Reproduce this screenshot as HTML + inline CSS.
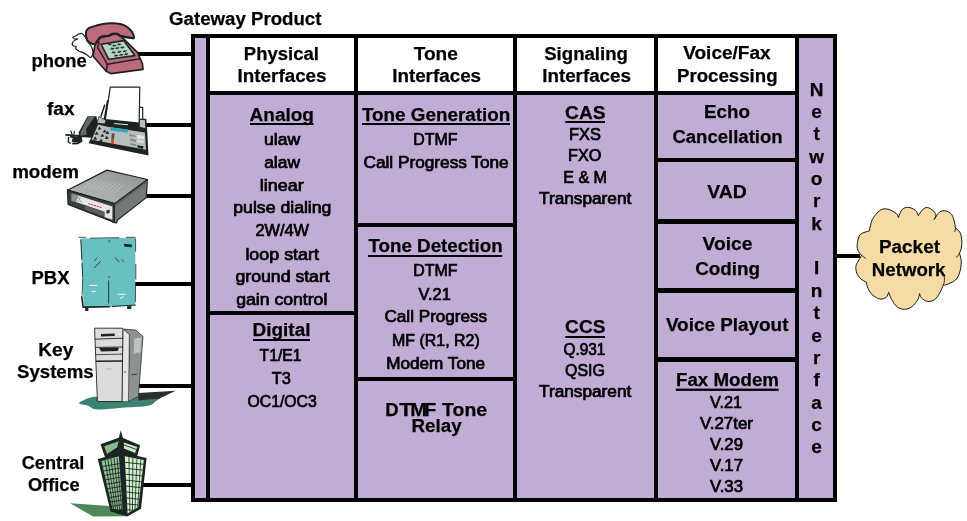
<!DOCTYPE html>
<html><head><meta charset="utf-8"><title>Gateway Product</title>
<style>
html,body{margin:0;padding:0;background:#fff;}
body{width:967px;height:521px;overflow:hidden;font-family:"Liberation Sans",sans-serif;}
svg{display:block}
text{font-family:"Liberation Sans",sans-serif;fill:#000;}
.b{font-weight:bold;font-size:19.2px;stroke:#000;stroke-width:0.25px;}
.r{font-size:15.7px;stroke:#000;stroke-width:0.7px;}
.v{font-weight:bold;font-size:19px;text-anchor:middle;stroke:#000;stroke-width:0.25px;}
</style></head><body>
<svg width="967" height="521" viewBox="0 0 967 521">
<rect x="193" y="36" width="642" height="464" fill="#c1acd5" stroke="#000" stroke-width="4"/>
<rect x="208" y="38" width="589" height="55" fill="#fff"/>
<rect x="206" y="36" width="4" height="464" fill="#000"/>
<rect x="354" y="36" width="4" height="464" fill="#000"/>
<rect x="513" y="36" width="4" height="464" fill="#000"/>
<rect x="654" y="36" width="4" height="464" fill="#000"/>
<rect x="795" y="36" width="4" height="464" fill="#000"/>
<rect x="206" y="91" width="593" height="4" fill="#000"/>
<rect x="208" y="311" width="148" height="4" fill="#000"/>
<rect x="356" y="223" width="159" height="4" fill="#000"/>
<rect x="356" y="377" width="159" height="4" fill="#000"/>
<rect x="656" y="158" width="141" height="4" fill="#000"/>
<rect x="656" y="219" width="141" height="5" fill="#000"/>
<rect x="656" y="288" width="141" height="5" fill="#000"/>
<rect x="656" y="357" width="141" height="5" fill="#000"/>
<rect x="136" y="52" width="56" height="4" fill="#000"/>
<rect x="146" y="123" width="46" height="4" fill="#000"/>
<rect x="147" y="194" width="45" height="4" fill="#000"/>
<rect x="134" y="282" width="58" height="4" fill="#000"/>
<rect x="138" y="384" width="54" height="4" fill="#000"/>
<rect x="142" y="483" width="50" height="4" fill="#000"/>
<rect x="836" y="254" width="24" height="4" fill="#000"/>
<g id="phone">
<path d="M83.5,34.7 C82.9,34.1 82.6,33.6 81.9,33.5 C81.1,33.3 79.8,33.6 78.7,34.0 C77.7,34.4 76.6,35.4 75.6,36.0 C74.6,36.5 72.8,36.7 72.7,37.2 C72.6,37.7 74.2,38.7 75.0,39.0 C75.8,39.3 77.8,38.7 77.7,39.0 C77.6,39.2 75.3,39.8 74.4,40.6 C73.5,41.3 72.4,42.6 72.2,43.5 C72.1,44.3 72.8,45.5 73.5,46.0 C74.2,46.5 75.9,46.0 76.2,46.5 C76.6,46.9 75.2,47.7 75.6,48.4 C76.0,49.2 77.6,50.3 78.7,50.9 C79.9,51.6 81.1,51.8 82.5,52.4 C83.8,53.1 85.6,53.9 86.8,54.7 C88.1,55.5 89.1,57.2 90.0,57.4 C90.8,57.7 91.3,57.0 91.8,56.2 C92.4,55.4 93.2,54.1 93.1,52.4 C93.0,50.8 92.2,48.0 91.2,46.2 C90.3,44.4 88.4,43.3 87.5,41.8 C86.5,40.4 86.3,38.7 85.6,37.5 C84.9,36.3 84.1,35.4 83.5,34.7 Z" fill="#fff" stroke="#1c2424" stroke-width="1.2" stroke-linejoin="round" stroke-linecap="round"/>
<polygon points="100.0,37.5 108.7,35.6 113.1,33.7 117.4,33.7 124.9,40.0 137.4,52.4 142.4,63.7 143.0,69.3 111.2,73.7 106.2,71.2 93.1,56.2 95.0,44.3" fill="#bd6a7b" stroke="#1c2424" stroke-width="1.7" stroke-linejoin="round" />
<polyline points="106.2,71.2 107.4,64.3 139.9,58.7" fill="none" stroke="#1c2424" stroke-width="1.6" stroke-linecap="round" stroke-linejoin="round" />
<polyline points="107.4,64.3 97.7,47.7 99.0,41.8" fill="none" stroke="#1c2424" stroke-width="1.5" stroke-linecap="round" stroke-linejoin="round" />
<polygon points="101.2,44.3 123.7,40.6 134.9,55.6 108.7,59.3" fill="#b2d9c5" stroke="#1c2424" stroke-width="1.6" stroke-linejoin="round" />
<polyline points="108.4,44.7 111.4,44.0" fill="none" stroke="#1c2424" stroke-width="1.1" stroke-linecap="round" stroke-linejoin="round" />
<polyline points="109.2,43.3 110.4,45.5" fill="none" stroke="#1c2424" stroke-width="0.6" stroke-linecap="round" stroke-linejoin="round" />
<polyline points="112.8,46.0 115.8,45.2" fill="none" stroke="#1c2424" stroke-width="1.1" stroke-linecap="round" stroke-linejoin="round" />
<polyline points="113.6,44.6 114.8,46.7" fill="none" stroke="#1c2424" stroke-width="0.6" stroke-linecap="round" stroke-linejoin="round" />
<polyline points="117.8,44.7 120.8,44.0" fill="none" stroke="#1c2424" stroke-width="1.1" stroke-linecap="round" stroke-linejoin="round" />
<polyline points="118.5,43.3 119.8,45.5" fill="none" stroke="#1c2424" stroke-width="0.6" stroke-linecap="round" stroke-linejoin="round" />
<polyline points="110.9,49.1 113.9,48.3" fill="none" stroke="#1c2424" stroke-width="1.1" stroke-linecap="round" stroke-linejoin="round" />
<polyline points="111.7,47.7 112.9,49.8" fill="none" stroke="#1c2424" stroke-width="0.6" stroke-linecap="round" stroke-linejoin="round" />
<polyline points="115.9,48.4 118.9,47.7" fill="none" stroke="#1c2424" stroke-width="1.1" stroke-linecap="round" stroke-linejoin="round" />
<polyline points="116.7,47.1 117.9,49.2" fill="none" stroke="#1c2424" stroke-width="0.6" stroke-linecap="round" stroke-linejoin="round" />
<polyline points="120.9,47.8 123.9,47.1" fill="none" stroke="#1c2424" stroke-width="1.1" stroke-linecap="round" stroke-linejoin="round" />
<polyline points="121.7,46.5 122.9,48.6" fill="none" stroke="#1c2424" stroke-width="0.6" stroke-linecap="round" stroke-linejoin="round" />
<polyline points="112.2,52.8 115.2,52.1" fill="none" stroke="#1c2424" stroke-width="1.1" stroke-linecap="round" stroke-linejoin="round" />
<polyline points="112.9,51.4 114.2,53.6" fill="none" stroke="#1c2424" stroke-width="0.6" stroke-linecap="round" stroke-linejoin="round" />
<polyline points="117.8,52.2 120.8,51.4" fill="none" stroke="#1c2424" stroke-width="1.1" stroke-linecap="round" stroke-linejoin="round" />
<polyline points="118.5,50.8 119.8,52.9" fill="none" stroke="#1c2424" stroke-width="0.6" stroke-linecap="round" stroke-linejoin="round" />
<polyline points="123.4,51.6 126.4,50.8" fill="none" stroke="#1c2424" stroke-width="1.1" stroke-linecap="round" stroke-linejoin="round" />
<polyline points="124.2,50.2 125.4,52.3" fill="none" stroke="#1c2424" stroke-width="0.6" stroke-linecap="round" stroke-linejoin="round" />
<polyline points="114.7,55.9 117.7,55.2" fill="none" stroke="#1c2424" stroke-width="1.1" stroke-linecap="round" stroke-linejoin="round" />
<polyline points="115.4,54.6 116.7,56.7" fill="none" stroke="#1c2424" stroke-width="0.6" stroke-linecap="round" stroke-linejoin="round" />
<polyline points="119.7,55.3 122.7,54.6" fill="none" stroke="#1c2424" stroke-width="1.1" stroke-linecap="round" stroke-linejoin="round" />
<polyline points="120.4,53.9 121.7,56.1" fill="none" stroke="#1c2424" stroke-width="0.6" stroke-linecap="round" stroke-linejoin="round" />
<polyline points="124.7,54.7 127.7,53.9" fill="none" stroke="#1c2424" stroke-width="1.1" stroke-linecap="round" stroke-linejoin="round" />
<polyline points="125.4,53.3 126.7,55.4" fill="none" stroke="#1c2424" stroke-width="0.6" stroke-linecap="round" stroke-linejoin="round" />
<path d="M86.2,31.2 C86.7,30.0 87.1,29.0 88.7,28.1 C90.4,27.2 93.3,26.4 96.2,25.6 C99.1,24.8 102.7,23.8 106.2,23.5 C109.7,23.1 114.3,23.1 117.4,23.5 C120.5,23.8 122.8,24.6 124.9,25.6 C127.0,26.6 128.6,28.0 129.9,29.4 C131.3,30.7 132.4,32.3 133.0,33.7 C133.7,35.2 134.2,37.5 133.7,38.1 C133.1,38.7 131.4,37.7 129.9,37.5 C128.5,37.3 126.6,37.2 124.9,36.8 C123.3,36.5 121.2,36.1 119.9,35.6 C118.7,35.1 118.7,34.0 117.4,33.7 C116.2,33.4 113.9,33.4 112.4,33.7 C111.0,34.0 110.1,35.2 108.7,35.6 C107.2,36.0 105.2,35.9 103.7,36.2 C102.2,36.5 101.1,36.5 100.0,37.5 C98.8,38.4 97.7,40.7 96.8,41.8 C96.0,43.0 96.0,44.1 95.0,44.3 C93.9,44.5 91.8,43.7 90.6,43.1 C89.3,42.5 88.2,41.8 87.5,40.6 C86.7,39.3 86.2,37.2 86.0,35.6 C85.8,34.0 85.8,32.5 86.2,31.2 Z" fill="#bd6a7b" stroke="#1c2424" stroke-width="2.0" stroke-linejoin="round" stroke-linecap="round"/>
<polyline points="96.8,41.8 100.0,37.7 104.3,36.5 108.9,35.8 113.1,34.0 117.4,34.0 120.5,36.0 125.5,37.2 130.5,38.0 133.4,38.2" fill="none" stroke="#1c2424" stroke-width="2.2" stroke-linecap="round" stroke-linejoin="round" />
</g>
<g id="fax">
<polyline points="66.0,134.9 72.9,135.4 80.1,135.6" fill="none" stroke="#1c2424" stroke-width="1.7" stroke-linecap="round" stroke-linejoin="round" />
<polyline points="70.8,130.8 72.1,134.6" fill="none" stroke="#1c2424" stroke-width="1.1" stroke-linecap="round" stroke-linejoin="round" />
<polyline points="74.4,131.3 73.8,134.8" fill="none" stroke="#1c2424" stroke-width="1.1" stroke-linecap="round" stroke-linejoin="round" />
<polyline points="68.6,137.5 68.3,141.8 70.1,143.3" fill="none" stroke="#1c2424" stroke-width="1.4" stroke-linecap="round" stroke-linejoin="round" />
<polyline points="70.8,136.8 75.8,137.1 77.3,139.7 73.7,141.4 70.8,140.4 74.4,139.0 80.1,138.5 81.6,141.1 78.0,143.3 72.9,143.7" fill="none" stroke="#1c2424" stroke-width="1.7" stroke-linecap="round" stroke-linejoin="round" />
<polyline points="77.3,136.8 83.0,136.1 85.2,133.9" fill="none" stroke="#1c2424" stroke-width="1.8" stroke-linecap="round" stroke-linejoin="round" />
<polygon points="71.8,137.1 81.6,136.5 82.4,140.8 78.4,142.8 73.2,142.3 74.4,139.7" fill="#1c2424" />
<polygon points="69.5,138.5 71.8,138.2 72.1,141.4 69.8,141.7" fill="#fff" />
<polygon points="87.6,116.2 96.3,116.2 98,122.3 92,137.8 79.9,137 78.6,132.6" fill="#1c2424"/>
<polygon points="88.1,116.7 94.5,117.1 85.9,129.2 86.8,134.4 80.3,135.7 80.7,131.8" fill="#616969"/>
<polygon points="138.8,107.3 142.7,107.3 142.7,119.6 138.8,119.6" fill="#fff" stroke="#1c2424" stroke-width="1.2" stroke-linejoin="round" />
<polygon points="98.8,116.0 105.3,119.6 139.1,123.2 139.1,118.8 146.3,118.8 147.0,126.8 148.5,155.6 88.7,143.3 91.6,136.8 96.6,123.9" fill="#1c2424" />
<polygon points="139.8,119.9 144.9,119.9 145.2,128.2 139.8,126.8" fill="#b9bdbd" />
<polygon points="99.2,117.0 105.7,120.4 104.6,123.6 97.4,122.7" fill="#b9bdbd" />
<polygon points="98.1,124.6 107.4,126.8 144.9,132.5 146.0,149.8 91.6,139.7" fill="#b9bdbd" />
<polygon points="93.0,139.4 97.6,126.0 107.7,128.2 108.6,142.3" fill="#b9bdbd" />
<polygon points="97.5,129.6 99.5,126.5 101.5,129.4" fill="#1c2424" />
<polygon points="102.5,132.5 104.6,129.4 106.6,132.2" fill="#1c2424" />
<polygon points="94.6,134.7 96.6,131.5 98.7,134.4" fill="#1c2424" />
<polygon points="100.4,136.8 102.4,133.7 104.4,136.6" fill="#1c2424" />
<polygon points="105.4,134.0 107.4,130.8 109.5,133.7" fill="#1c2424" />
<polygon points="93.2,139.7 95.2,136.6 97.2,139.4" fill="#1c2424" />
<polygon points="98.9,141.9 101.0,138.7 103.0,141.6" fill="#1c2424" />
<polygon points="104.7,139.0 106.7,135.8 108.7,138.7" fill="#1c2424" />
<polygon points="110.3,127.2 127.9,129.6 127.9,132.8 110.3,130.5" fill="#2fa9c3" />
<polygon points="111.8,133.2 114.6,133.5 113.9,139.3 111.3,139.0" fill="#4a5050" />
<polygon points="111.3,139.0 113.8,139.3 113.6,144.0 111.3,143.8" fill="#e03020" />
<polygon points="137.0,135.1 144.2,135.7 144.2,139.1 137.0,138.6" fill="#e4e4e4" />
<polygon points="137.0,139.7 144.2,140.4 144.2,142.9 137.0,142.3" fill="#dcdcdc" />
<polygon points="129.3,134.0 135.5,135.4 135.5,137.1 129.3,136.0" fill="#7c8484" />
<polygon points="130.2,138.6 136.0,140.0 136.0,141.7 130.2,140.6" fill="#7c8484" />
<polygon points="130.5,142.9 136.2,144.3 136.2,146.1 130.5,144.9" fill="#7c8484" />
<polygon points="137.0,145.2 143.7,146.2 142.7,149.1 137.7,147.6" fill="#1c2424" />
<polygon points="110.3,87.2 139.8,87.2 139.1,123.2 105.3,119.6" fill="#fff" stroke="#1c2424" stroke-width="1.2" stroke-linejoin="round" />
<polyline points="104.6,105.2 101.0,116.0" fill="none" stroke="#1c2424" stroke-width="1.5" stroke-linecap="round" stroke-linejoin="round" />
<polyline points="107.7,100.8 104.6,118.8" fill="none" stroke="#1c2424" stroke-width="1.8" stroke-linecap="round" stroke-linejoin="round" />
<polyline points="114.6,123.6 127.6,124.7" fill="none" stroke="#e8e8e8" stroke-width="1.0" stroke-linecap="round" stroke-linejoin="round" />
</g>
<g id="modem">
<defs><linearGradient id="mg" x1="0" y1="1" x2="1" y2="0"><stop offset="0" stop-color="#b4b8b8"/><stop offset="0.5" stop-color="#a4a8a8"/><stop offset="1" stop-color="#8c9090"/></linearGradient></defs>
<polygon points="114.4,203.7 147.4,179.5 146.3,197.6 117.8,219.8 116.5,222.9 113.1,222.5" fill="#747878" stroke="#1c2424" stroke-width="1.2" stroke-linejoin="round" />
<polygon points="114.4,203.7 147.4,179.5 147.4,182.2 115.1,206.4" fill="#5c6060" />
<polygon points="67.4,190.2 107.0,170.1 147.4,179.5 114.4,203.7" fill="url(#mg)" stroke="#1c2424" stroke-width="1.2" stroke-linejoin="round" />
<polyline points="93.6,180.2 84.2,187.6" fill="none" stroke="#c8cccc" stroke-width="0.6" stroke-linecap="round" stroke-linejoin="round" />
<polyline points="97.4,180.7 88.0,188.2" fill="none" stroke="#c8cccc" stroke-width="0.6" stroke-linecap="round" stroke-linejoin="round" />
<polyline points="101.1,181.2 91.7,188.9" fill="none" stroke="#c8cccc" stroke-width="0.6" stroke-linecap="round" stroke-linejoin="round" />
<polyline points="104.9,181.8 95.5,189.6" fill="none" stroke="#c8cccc" stroke-width="0.6" stroke-linecap="round" stroke-linejoin="round" />
<polyline points="108.7,182.3 99.2,190.2" fill="none" stroke="#c8cccc" stroke-width="0.6" stroke-linecap="round" stroke-linejoin="round" />
<polyline points="112.4,182.8 103.0,190.9" fill="none" stroke="#c8cccc" stroke-width="0.6" stroke-linecap="round" stroke-linejoin="round" />
<polyline points="116.2,183.4 106.8,191.6" fill="none" stroke="#c8cccc" stroke-width="0.6" stroke-linecap="round" stroke-linejoin="round" />
<polyline points="119.9,183.9 110.5,192.3" fill="none" stroke="#c8cccc" stroke-width="0.6" stroke-linecap="round" stroke-linejoin="round" />
<polyline points="123.7,184.5 114.3,192.9" fill="none" stroke="#c8cccc" stroke-width="0.6" stroke-linecap="round" stroke-linejoin="round" />
<polygon points="67.4,190.2 114.4,203.7 114.4,222.5 68.1,204.4" fill="#3a3e3e" stroke="#1c2424" stroke-width="1.2" stroke-linejoin="round" />
<polygon points="71.4,193.3 78.1,195.2 76.1,202.3 71.4,201.0" fill="#8c9494" />
<polygon points="78.1,195.6 112.4,206.4 112.4,219.8 104.4,217.1 104.4,211.7 84.9,205.0 76.1,202.3" fill="#e6e6e6" />
<polygon points="84.9,205.4 104.4,212.2 104.4,216.7 84.9,209.5" fill="#5a5e5e" />
<polyline points="88.9,203.7 101.7,207.7" fill="none" stroke="#d03030" stroke-width="1.0" stroke-linecap="round" stroke-linejoin="round" stroke-dasharray="1.3 1.6"/>
<polygon points="106.4,210.4 109.7,209.5 109.5,213.1 106.4,213.8" fill="#2a2e2e" />
<polyline points="78.1,197.0 81.5,202.3" fill="none" stroke="#888" stroke-width="0.7" stroke-linecap="round" stroke-linejoin="round" />
<polyline points="80.2,197.6 78.1,201.9" fill="none" stroke="#888" stroke-width="0.7" stroke-linecap="round" stroke-linejoin="round" />
</g>
<g id="pbx">
<polygon points="80.6,238.5 135.3,237.8 135.3,305.4 83.9,307.9 82.2,279.0" fill="#68c1c0" />
<polyline points="79.0,237.3 85.5,237.3" fill="none" stroke="#1c2424" stroke-width="0.8" stroke-linecap="round" stroke-linejoin="round" />
<polyline points="90.4,238.2 119.0,237.7" fill="none" stroke="#1c2424" stroke-width="0.8" stroke-linecap="round" stroke-linejoin="round" />
<polyline points="126.3,237.3 135.3,237.3" fill="none" stroke="#1c2424" stroke-width="0.8" stroke-linecap="round" stroke-linejoin="round" />
<polyline points="80.8,239.8 81.8,259.4" fill="none" stroke="#1c2424" stroke-width="0.9" stroke-linecap="round" stroke-linejoin="round" />
<polyline points="82.1,263.5 82.7,277.3" fill="none" stroke="#1c2424" stroke-width="0.9" stroke-linecap="round" stroke-linejoin="round" />
<polyline points="82.7,279.0 82.1,295.3" fill="none" stroke="#1c2424" stroke-width="0.8" stroke-linecap="round" stroke-linejoin="round" />
<polyline points="81.8,296.9 83.1,307.1 109.2,306.7" fill="none" stroke="#1c2424" stroke-width="1.6" stroke-linecap="round" stroke-linejoin="round" />
<polyline points="112.4,306.4 135.3,305.1" fill="none" stroke="#1c2424" stroke-width="1.0" stroke-linecap="round" stroke-linejoin="round" />
<polyline points="135.6,239.0 135.6,251.2" fill="none" stroke="#1c2424" stroke-width="0.8" stroke-linecap="round" stroke-linejoin="round" />
<polyline points="135.8,264.3 135.8,279.0" fill="none" stroke="#1c2424" stroke-width="0.8" stroke-linecap="round" stroke-linejoin="round" />
<polyline points="135.6,285.5 135.3,301.8" fill="none" stroke="#1c2424" stroke-width="0.8" stroke-linecap="round" stroke-linejoin="round" />
<polyline points="108.7,280.9 108.7,303.1" fill="none" stroke="#1c2424" stroke-width="0.9" stroke-linecap="round" stroke-linejoin="round" />
<polyline points="109.2,276.5 109.2,277.3" fill="none" stroke="#1c2424" stroke-width="0.9" stroke-linecap="round" stroke-linejoin="round" />
<polyline points="109.2,240.6 109.2,241.8" fill="none" stroke="#1c2424" stroke-width="0.9" stroke-linecap="round" stroke-linejoin="round" />
<polyline points="94.5,267.6 100.2,261.8" fill="none" stroke="#1c2424" stroke-width="0.8" stroke-linecap="round" stroke-linejoin="round" />
<polyline points="94.2,260.7 96.9,258.1" fill="none" stroke="#1c2424" stroke-width="0.7" stroke-linecap="round" stroke-linejoin="round" />
<polyline points="115.4,257.8 119.0,261.8" fill="none" stroke="#1c2424" stroke-width="0.8" stroke-linecap="round" stroke-linejoin="round" />
<polyline points="121.9,259.7 123.9,261.8" fill="none" stroke="#1c2424" stroke-width="0.7" stroke-linecap="round" stroke-linejoin="round" />
<polyline points="89.9,285.5 96.9,285.5" fill="none" stroke="#fff" stroke-width="0.9" stroke-linecap="round" stroke-linejoin="round" />
<polyline points="92.0,291.6 95.3,291.6" fill="none" stroke="#fff" stroke-width="0.9" stroke-linecap="round" stroke-linejoin="round" />
<polyline points="118.2,294.3 125.5,294.3" fill="none" stroke="#fff" stroke-width="0.9" stroke-linecap="round" stroke-linejoin="round" />
<polyline points="120.3,298.2 123.1,296.9" fill="none" stroke="#fff" stroke-width="0.9" stroke-linecap="round" stroke-linejoin="round" />
<polygon points="123.6,243.7 132.0,244.4 131.7,247.3 124.7,246.7" fill="#1c2424" />
<polygon points="85.2,307.7 88.4,307.7 88.4,311.0 85.2,311.0" fill="#1c2424" />
<polygon points="127.1,306.1 131.4,306.1 131.4,308.9 127.1,308.9" fill="#1c2424" />
</g>
<g id="tower">
<path d="M79.1,403.0 C79.9,401.5 88.2,397.7 92.8,397.0 C97.4,396.2 100.5,397.7 106.5,398.4 C112.4,399.1 123.0,401.5 128.4,401.2 C133.7,400.9 133.2,397.2 138.4,396.6 C143.6,396.0 156.5,396.8 159.4,397.5 C162.3,398.3 157.5,399.8 155.7,401.2 C153.9,402.5 153.6,404.7 148.4,405.7 C143.3,406.8 133.2,406.9 124.7,407.5 C116.2,408.2 103.4,409.7 97.4,409.4 C91.3,409.1 91.3,406.8 88.2,405.7 C85.2,404.7 78.4,404.4 79.1,403.0 Z" fill="#3c8272"/>
<polygon points="138.4,393.0 175.8,390.8 159.4,398.4 138.4,400.6" fill="#2a2e2e" />
<polygon points="123.8,329.1 135.7,330.0 143.0,336.4 138.4,396.6 128.4,401.5 129.3,334.6" fill="#8c9292" stroke="#1c2424" stroke-width="0.7" stroke-linejoin="round" />
<polygon points="134.7,338.2 141.5,337.3 140.2,352.8 133.5,353.7" fill="#b4baba" />
<polyline points="134.2,340.1 141.1,339.0" fill="none" stroke="#d8dcdc" stroke-width="0.6" stroke-linecap="round" stroke-linejoin="round" />
<polyline points="134.2,342.4 141.1,341.3" fill="none" stroke="#d8dcdc" stroke-width="0.6" stroke-linecap="round" stroke-linejoin="round" />
<polyline points="134.2,344.8 141.1,343.7" fill="none" stroke="#d8dcdc" stroke-width="0.6" stroke-linecap="round" stroke-linejoin="round" />
<polyline points="134.2,347.2 141.1,346.1" fill="none" stroke="#d8dcdc" stroke-width="0.6" stroke-linecap="round" stroke-linejoin="round" />
<polyline points="134.2,349.5 141.1,348.5" fill="none" stroke="#d8dcdc" stroke-width="0.6" stroke-linecap="round" stroke-linejoin="round" />
<polyline points="134.2,351.9 141.1,350.8" fill="none" stroke="#d8dcdc" stroke-width="0.6" stroke-linecap="round" stroke-linejoin="round" />
<polyline points="132.0,374.7 136.6,374.3" fill="none" stroke="#1c2424" stroke-width="0.8" stroke-linecap="round" stroke-linejoin="round" />
<polygon points="122.9,329.1 129.3,334.6 128.4,401.5 122.0,401.5" fill="#e6e6e6" stroke="#1c2424" stroke-width="0.5" stroke-linejoin="round" />
<polygon points="94.6,328.2 122.9,328.2 122.0,401.5 97.4,401.5" fill="#dcdcdc" stroke="#1c2424" stroke-width="0.9" stroke-linejoin="round" />
<polyline points="95.0,339.2 122.9,338.2" fill="none" stroke="#1c2424" stroke-width="0.9" stroke-linecap="round" stroke-linejoin="round" />
<polyline points="95.5,347.4 122.9,347.0" fill="none" stroke="#1c2424" stroke-width="0.9" stroke-linecap="round" stroke-linejoin="round" />
<polygon points="99.2,347.7 118.9,347.4 117.8,351.0 101.0,351.4" fill="#1c2424" />
<polyline points="95.9,354.7 122.5,354.1" fill="none" stroke="#1c2424" stroke-width="0.8" stroke-linecap="round" stroke-linejoin="round" />
<polyline points="96.4,361.2 122.5,360.9" fill="none" stroke="#1c2424" stroke-width="1.5" stroke-linecap="round" stroke-linejoin="round" />
<polygon points="101.0,333.9 114.7,333.5 114.7,336.0 101.0,336.4" fill="#1c2424" />
<polyline points="106.5,368.9 112.3,368.9" fill="none" stroke="#b8b8b8" stroke-width="1.0" stroke-linecap="round" stroke-linejoin="round" />
<circle cx="125.1" cy="372.0" r="1.3" fill="#a0a0a0"/>
</g>
<g id="bldg">
<polygon points="70.1,503.3 109.7,506.0 126.3,516.2 93.1,516.5" fill="#4f8858" />
<polygon points="120.8,430.2 123.0,438.8 118.6,438.8" fill="#1c2424" />
<polygon points="100.5,444.3 120.8,437.0 140.1,445.3 136.4,459.1 122.6,454.5 106.0,460.0" fill="#1c2424" />
<polygon points="97.8,459.1 121.7,452.6 146.6,458.1 141.0,508.8 127.2,516.5 110.6,511.6" fill="#1c2424" />
<polygon points="104.2,446.2 118.6,441.2 117.1,447.5 107.0,453.9" fill="#88b88a" />
<polygon points="123.9,442.5 137.3,447.1 135.1,453.0 123.9,448.4" fill="#c8ecc2" />
<polyline points="123.9,444.9 136.6,449.5" fill="none" stroke="#1c2424" stroke-width="0.9" stroke-linecap="round" stroke-linejoin="round" />
<clipPath id="lf"><polygon points="101.4,460.9 118.9,456.3 122.6,510.1 112.5,508.8"/></clipPath><clipPath id="rf"><polygon points="124.8,456.3 143.8,460.0 138.3,507.0 127.6,513.4"/></clipPath>
<polygon points="101.4,460.9 118.9,456.3 122.6,510.1 112.5,508.8" fill="#8fc092" />
<polygon points="124.8,456.3 143.8,460.0 138.3,507.0 127.6,513.4" fill="#d2f2cc" />
<g clip-path="url(#lf)"><polyline points="99.6,467.0 123.5,462.9" fill="none" stroke="#1c2424" stroke-width="0.9" stroke-linecap="round" stroke-linejoin="round" /><polyline points="99.6,471.6 123.5,467.5" fill="none" stroke="#1c2424" stroke-width="0.9" stroke-linecap="round" stroke-linejoin="round" /><polyline points="99.6,476.2 123.5,472.1" fill="none" stroke="#1c2424" stroke-width="0.9" stroke-linecap="round" stroke-linejoin="round" /><polyline points="99.6,480.8 123.5,476.7" fill="none" stroke="#1c2424" stroke-width="0.9" stroke-linecap="round" stroke-linejoin="round" /><polyline points="99.6,485.4 123.5,481.4" fill="none" stroke="#1c2424" stroke-width="0.9" stroke-linecap="round" stroke-linejoin="round" /><polyline points="99.6,490.0 123.5,486.0" fill="none" stroke="#1c2424" stroke-width="0.9" stroke-linecap="round" stroke-linejoin="round" /><polyline points="99.6,494.6 123.5,490.6" fill="none" stroke="#1c2424" stroke-width="0.9" stroke-linecap="round" stroke-linejoin="round" /><polyline points="99.6,499.2 123.5,495.2" fill="none" stroke="#1c2424" stroke-width="0.9" stroke-linecap="round" stroke-linejoin="round" /><polyline points="99.6,503.8 123.5,499.8" fill="none" stroke="#1c2424" stroke-width="0.9" stroke-linecap="round" stroke-linejoin="round" /><polyline points="99.6,508.4 123.5,504.4" fill="none" stroke="#1c2424" stroke-width="0.9" stroke-linecap="round" stroke-linejoin="round" /><polyline points="99.6,513.0 123.5,509.0" fill="none" stroke="#1c2424" stroke-width="0.9" stroke-linecap="round" stroke-linejoin="round" /><polyline points="104.6,458.1 114.1,511.6" fill="none" stroke="#1c2424" stroke-width="0.8" stroke-linecap="round" stroke-linejoin="round" /><polyline points="107.7,458.1 116.0,511.6" fill="none" stroke="#1c2424" stroke-width="0.8" stroke-linecap="round" stroke-linejoin="round" /><polyline points="110.8,458.1 117.9,511.6" fill="none" stroke="#1c2424" stroke-width="0.8" stroke-linecap="round" stroke-linejoin="round" /><polyline points="114.0,458.1 119.9,511.6" fill="none" stroke="#1c2424" stroke-width="0.8" stroke-linecap="round" stroke-linejoin="round" /><polyline points="117.1,458.1 121.8,511.6" fill="none" stroke="#1c2424" stroke-width="0.8" stroke-linecap="round" stroke-linejoin="round" /></g><g clip-path="url(#rf)"><polyline points="123.5,462.2 144.7,464.4" fill="none" stroke="#1c2424" stroke-width="0.9" stroke-linecap="round" stroke-linejoin="round" /><polyline points="123.5,468.1 144.7,470.3" fill="none" stroke="#1c2424" stroke-width="0.9" stroke-linecap="round" stroke-linejoin="round" /><polyline points="123.5,474.0 144.7,476.2" fill="none" stroke="#1c2424" stroke-width="0.9" stroke-linecap="round" stroke-linejoin="round" /><polyline points="123.5,479.9 144.7,482.1" fill="none" stroke="#1c2424" stroke-width="0.9" stroke-linecap="round" stroke-linejoin="round" /><polyline points="123.5,485.8 144.7,488.0" fill="none" stroke="#1c2424" stroke-width="0.9" stroke-linecap="round" stroke-linejoin="round" /><polyline points="123.5,491.7 144.7,493.9" fill="none" stroke="#1c2424" stroke-width="0.9" stroke-linecap="round" stroke-linejoin="round" /><polyline points="123.5,497.6 144.7,499.8" fill="none" stroke="#1c2424" stroke-width="0.9" stroke-linecap="round" stroke-linejoin="round" /><polyline points="123.5,503.5 144.7,505.7" fill="none" stroke="#1c2424" stroke-width="0.9" stroke-linecap="round" stroke-linejoin="round" /><polyline points="123.5,509.3 144.7,511.6" fill="none" stroke="#1c2424" stroke-width="0.9" stroke-linecap="round" stroke-linejoin="round" /><polyline points="128.9,456.3 130.0,514.3" fill="none" stroke="#1c2424" stroke-width="0.8" stroke-linecap="round" stroke-linejoin="round" /><polyline points="132.9,456.3 132.4,514.3" fill="none" stroke="#1c2424" stroke-width="0.8" stroke-linecap="round" stroke-linejoin="round" /><polyline points="137.0,456.3 134.8,514.3" fill="none" stroke="#1c2424" stroke-width="0.8" stroke-linecap="round" stroke-linejoin="round" /><polyline points="141.0,456.3 137.2,514.3" fill="none" stroke="#1c2424" stroke-width="0.8" stroke-linecap="round" stroke-linejoin="round" /></g>
</g>
<path d="M861.5,255.4 C860.9,254.5 858.5,252.0 857.8,250.0 C857.1,248.0 856.9,246.2 857.3,243.6 C857.7,241.0 858.3,236.6 860.3,234.5 C862.3,232.4 867.9,231.5 869.4,230.9 C869.9,229.0 870.6,222.8 872.4,219.4 C874.2,216.0 877.7,212.0 880.2,210.3 C882.7,208.6 884.9,208.6 887.5,209.1 C890.1,209.6 894.2,211.9 896.0,213.3 C897.8,214.7 898.0,216.8 898.4,217.5 C899.0,216.2 900.4,211.4 902.0,209.7 C903.6,208.0 905.9,207.2 908.1,207.3 C910.3,207.4 913.6,208.9 915.3,210.3 C917.0,211.7 917.9,214.8 918.4,215.7 C919.1,214.7 921.1,211.1 922.6,209.7 C924.1,208.3 925.6,207.3 927.4,207.5 C929.2,207.7 932.1,209.5 933.5,210.9 C934.9,212.3 935.8,214.3 935.9,215.7 C936.0,217.1 934.4,218.8 934.1,219.4 C935.0,218.2 937.6,213.5 939.5,212.1 C941.4,210.7 943.6,210.5 945.6,210.9 C947.6,211.3 950.1,212.5 951.6,214.5 C953.1,216.5 954.1,220.8 954.7,223.0 C955.3,225.2 955.2,227.0 955.3,227.8 C956.1,228.6 959.0,230.5 960.1,232.7 C961.2,234.9 961.7,238.5 961.9,241.1 C962.1,243.7 961.7,246.0 961.3,248.0 C960.9,250.0 959.8,252.3 959.5,253.2 C959.8,254.7 961.3,258.8 961.3,262.1 C961.3,265.4 960.5,270.0 959.5,273.0 C958.5,276.0 957.4,278.3 955.3,280.2 C953.2,282.1 948.8,283.7 946.8,284.5 C944.8,285.3 943.8,285.0 943.2,285.1 C942.7,286.3 941.5,289.9 940.1,292.3 C938.7,294.7 936.8,298.1 934.7,299.6 C932.6,301.1 929.6,301.7 927.4,301.4 C925.2,301.1 922.7,299.1 921.4,297.8 C920.1,296.5 919.9,294.3 919.6,293.6 C919.3,294.6 919.1,297.4 917.8,299.6 C916.5,301.8 913.9,305.3 911.7,306.9 C909.5,308.5 906.8,309.3 904.4,309.3 C902.0,309.3 899.3,308.5 897.2,306.9 C895.1,305.3 893.1,302.0 891.7,299.6 C890.3,297.2 889.2,293.5 888.7,292.3 C888.3,293.1 887.7,296.1 886.3,297.2 C884.9,298.3 882.4,299.3 880.2,299.0 C878.0,298.7 875.0,297.1 873.0,295.4 C871.0,293.7 869.2,290.9 868.1,288.7 C867.0,286.5 866.6,283.2 866.3,282.1 C865.4,281.6 862.5,280.5 860.9,279.0 C859.3,277.5 857.5,275.2 856.7,273.0 C855.9,270.8 855.6,267.9 856.0,265.7 C856.4,263.5 858.2,261.4 859.1,259.7 C860.0,258.0 861.1,256.1 861.5,255.4 Z" fill="#f6dba7" stroke="#000" stroke-width="0.9" stroke-linejoin="round"/>
<path d="M943.8,274.2 C945,279 944.5,283 943.2,285.1" fill="none" stroke="#000" stroke-width="0.8"/>
<path d="M861.5,255.4 C863,256.5 864.5,257.5 865.7,258.5" fill="none" stroke="#000" stroke-width="0.8"/>
<path d="M955.3,227.8 C955.6,229.5 955.2,231 954.6,232" fill="none" stroke="#000" stroke-width="0.8"/>
<path d="M959.5,253.2 C958.5,255 957.5,256.5 956.3,257.5" fill="none" stroke="#000" stroke-width="0.8"/>

<rect x="250" y="123" width="63.6" height="2" fill="#000"/>
<rect x="253" y="339" width="57.0" height="2" fill="#000"/>
<rect x="362" y="123" width="148.0" height="2" fill="#000"/>
<rect x="368" y="255" width="134.2" height="2" fill="#000"/>
<rect x="565.3" y="121" width="39.7" height="2" fill="#000"/>
<rect x="565.3" y="336" width="39.7" height="2" fill="#000"/>
<rect x="675.8" y="388.6" width="102.8" height="2.3" fill="#000"/>
<g style="filter:grayscale(1)">
<text class="b" x="169.10" y="24.80" textLength="152.36" lengthAdjust="spacingAndGlyphs">Gateway Product</text>
<text class="b" x="243.80" y="59.80" textLength="75.04" lengthAdjust="spacingAndGlyphs">Physical</text>
<text class="b" x="237.60" y="82.30" textLength="88.96" lengthAdjust="spacingAndGlyphs">Interfaces</text>
<text class="b" x="413.70" y="59.50" textLength="44.14" lengthAdjust="spacingAndGlyphs">Tone</text>
<text class="b" x="392.20" y="82.20" textLength="88.86" lengthAdjust="spacingAndGlyphs">Interfaces</text>
<text class="b" x="544.20" y="59.50" textLength="83.72" lengthAdjust="spacingAndGlyphs">Signaling</text>
<text class="b" x="542.20" y="82.20" textLength="88.76" lengthAdjust="spacingAndGlyphs">Interfaces</text>
<text class="b" x="683.20" y="59.30" textLength="87.47" lengthAdjust="spacingAndGlyphs">Voice/Fax</text>
<text class="b" x="677.00" y="82.20" textLength="100.61" lengthAdjust="spacingAndGlyphs">Processing</text>
<text class="b" x="249.60" y="120.70" textLength="64.34" lengthAdjust="spacingAndGlyphs">Analog</text>
<text class="b" x="252.60" y="336.40" textLength="57.84" lengthAdjust="spacingAndGlyphs">Digital</text>
<text class="b" x="361.90" y="120.70" textLength="148.50" lengthAdjust="spacingAndGlyphs">Tone Generation</text>
<text class="b" x="368.50" y="252.30" textLength="134.10" lengthAdjust="spacingAndGlyphs">Tone Detection</text>
<text class="b" x="385.30" y="415.80" textLength="13.39" lengthAdjust="spacingAndGlyphs">D</text>
<text class="b" x="399.30" y="415.80" textLength="13.18" lengthAdjust="spacingAndGlyphs">T</text>
<text class="b" x="410.20" y="415.80" textLength="16.69" lengthAdjust="spacingAndGlyphs">M</text>
<text class="b" x="424.30" y="415.80" textLength="12.08" lengthAdjust="spacingAndGlyphs">F</text>
<text class="b" x="442.10" y="415.80" textLength="45.04" lengthAdjust="spacingAndGlyphs">Tone</text>
<text class="b" x="411.50" y="432.20" textLength="50.08" lengthAdjust="spacingAndGlyphs">Relay</text>
<text class="b" x="565.10" y="118.50" textLength="40.34" lengthAdjust="spacingAndGlyphs">CAS</text>
<text class="b" x="565.10" y="333.40" textLength="40.34" lengthAdjust="spacingAndGlyphs">CCS</text>
<text class="b" x="703.90" y="117.90" textLength="46.04" lengthAdjust="spacingAndGlyphs">Echo</text>
<text class="b" x="672.40" y="143.20" textLength="110.23" lengthAdjust="spacingAndGlyphs">Cancellation</text>
<text class="b" x="707.20" y="197.60" textLength="39.49" lengthAdjust="spacingAndGlyphs">VAD</text>
<text class="b" x="702.50" y="250.30" textLength="49.85" lengthAdjust="spacingAndGlyphs">Voice</text>
<text class="b" x="695.20" y="275.10" textLength="64.89" lengthAdjust="spacingAndGlyphs">Coding</text>
<text class="b" x="665.90" y="331.40" textLength="122.58" lengthAdjust="spacingAndGlyphs">Voice Playout</text>
<text class="b" x="676.00" y="386.10" textLength="102.99" lengthAdjust="spacingAndGlyphs">Fax Modem</text>
<text class="b" x="879.00" y="253.20" textLength="60.93" lengthAdjust="spacingAndGlyphs">Packet</text>
<text class="b" x="871.80" y="275.70" textLength="73.67" lengthAdjust="spacingAndGlyphs">Network</text>
<text class="b" x="31.50" y="66.80" textLength="55.17" lengthAdjust="spacingAndGlyphs">phone</text>
<text class="b" x="47.00" y="115.40" textLength="27.60" lengthAdjust="spacingAndGlyphs">fax</text>
<text class="b" x="12.20" y="177.90" textLength="66.62" lengthAdjust="spacingAndGlyphs">modem</text>
<text class="b" x="31.50" y="283.50" textLength="37.98" lengthAdjust="spacingAndGlyphs">PBX</text>
<text class="b" x="38.30" y="356.00" textLength="35.07" lengthAdjust="spacingAndGlyphs">Key</text>
<text class="b" x="17.00" y="377.70" textLength="76.68" lengthAdjust="spacingAndGlyphs">Systems</text>
<text class="b" x="21.70" y="468.60" textLength="62.72" lengthAdjust="spacingAndGlyphs">Central</text>
<text class="b" x="27.90" y="490.70" textLength="51.73" lengthAdjust="spacingAndGlyphs">Office</text>
<text class="r" x="264.00" y="144.70" textLength="36.16" lengthAdjust="spacingAndGlyphs">ulaw</text>
<text class="r" x="264.20" y="167.70" textLength="35.76" lengthAdjust="spacingAndGlyphs">alaw</text>
<text class="r" x="259.80" y="190.70" textLength="43.82" lengthAdjust="spacingAndGlyphs">linear</text>
<text class="r" x="233.30" y="213.00" textLength="98.13" lengthAdjust="spacingAndGlyphs">pulse dialing</text>
<text class="r" x="255.40" y="236.20" textLength="53.56" lengthAdjust="spacingAndGlyphs">2W/4W</text>
<text class="r" x="245.40" y="259.50" textLength="73.54" lengthAdjust="spacingAndGlyphs">loop start</text>
<text class="r" x="235.50" y="282.20" textLength="94.23" lengthAdjust="spacingAndGlyphs">ground start</text>
<text class="r" x="236.20" y="305.40" textLength="91.14" lengthAdjust="spacingAndGlyphs">gain control</text>
<text class="r" x="259.60" y="360.70" textLength="41.91" lengthAdjust="spacingAndGlyphs">T1/E1</text>
<text class="r" x="271.80" y="383.50" textLength="19.04" lengthAdjust="spacingAndGlyphs">T3</text>
<text class="r" x="247.50" y="406.50" textLength="69.25" lengthAdjust="spacingAndGlyphs">OC1/OC3</text>
<text class="r" x="413.20" y="144.70" textLength="44.17" lengthAdjust="spacingAndGlyphs">DTMF</text>
<text class="r" x="363.50" y="167.50" textLength="145.17" lengthAdjust="spacingAndGlyphs">Call Progress Tone</text>
<text class="r" x="413.20" y="276.30" textLength="44.17" lengthAdjust="spacingAndGlyphs">DTMF</text>
<text class="r" x="418.60" y="299.50" textLength="32.18" lengthAdjust="spacingAndGlyphs">V.21</text>
<text class="r" x="384.50" y="322.40" textLength="102.67" lengthAdjust="spacingAndGlyphs">Call Progress</text>
<text class="r" x="392.10" y="345.50" textLength="87.67" lengthAdjust="spacingAndGlyphs">MF (R1, R2)</text>
<text class="r" x="386.20" y="368.70" textLength="98.86" lengthAdjust="spacingAndGlyphs">Modem Tone</text>
<text class="r" x="569.00" y="139.90" textLength="31.83" lengthAdjust="spacingAndGlyphs">FXS</text>
<text class="r" x="568.00" y="161.10" textLength="33.32" lengthAdjust="spacingAndGlyphs">FXO</text>
<text class="r" x="563.20" y="182.50" textLength="43.79" lengthAdjust="spacingAndGlyphs">E &amp; M</text>
<text class="r" x="539.00" y="203.70" textLength="92.33" lengthAdjust="spacingAndGlyphs">Transparent</text>
<text class="r" x="563.40" y="355.30" textLength="42.01" lengthAdjust="spacingAndGlyphs">Q.931</text>
<text class="r" x="565.10" y="376.40" textLength="39.80" lengthAdjust="spacingAndGlyphs">QSIG</text>
<text class="r" x="539.00" y="397.40" textLength="92.33" lengthAdjust="spacingAndGlyphs">Transparent</text>
<text class="r" x="710.10" y="407.90" textLength="32.08" lengthAdjust="spacingAndGlyphs">V.21</text>
<text class="r" x="700.10" y="429.40" textLength="52.85" lengthAdjust="spacingAndGlyphs">V.27ter</text>
<text class="r" x="710.10" y="450.10" textLength="32.88" lengthAdjust="spacingAndGlyphs">V.29</text>
<text class="r" x="710.10" y="471.10" textLength="32.88" lengthAdjust="spacingAndGlyphs">V.17</text>
<text class="r" x="710.10" y="492.30" textLength="32.88" lengthAdjust="spacingAndGlyphs">V.33</text>
<text class="v" x="816.6" y="95.5">N</text>
<text class="v" x="816.6" y="117.9">e</text>
<text class="v" x="816.6" y="140.2">t</text>
<text class="v" x="816.6" y="162.6">w</text>
<text class="v" x="816.6" y="184.9">o</text>
<text class="v" x="816.6" y="207.3">r</text>
<text class="v" x="816.6" y="229.7">k</text>
<text class="v" x="816.6" y="274.4">I</text>
<text class="v" x="816.6" y="296.7">n</text>
<text class="v" x="816.6" y="319.1">t</text>
<text class="v" x="816.6" y="341.5">e</text>
<text class="v" x="816.6" y="363.8">r</text>
<text class="v" x="816.6" y="386.2">f</text>
<text class="v" x="816.6" y="408.5">a</text>
<text class="v" x="816.6" y="430.9">c</text>
<text class="v" x="816.6" y="453.3">e</text>
</g>
</svg>
</body></html>
